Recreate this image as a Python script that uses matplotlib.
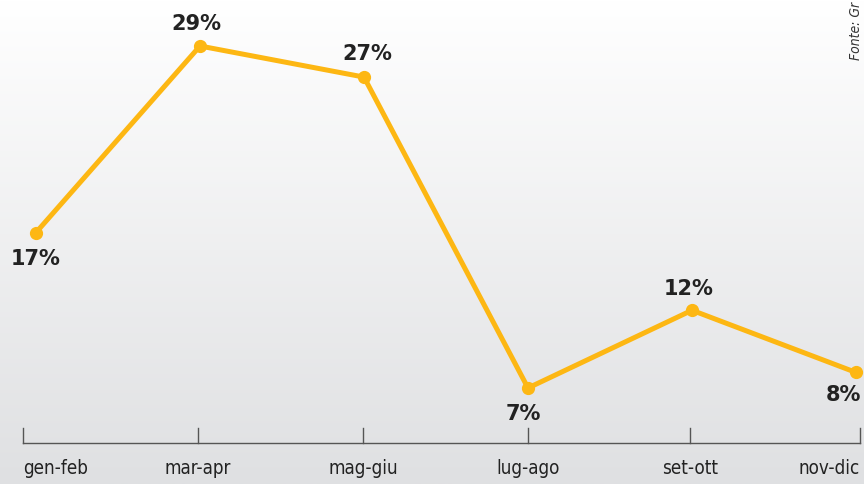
import numpy as np
import matplotlib.pyplot as plt

periodi = ["gen-feb", "mar-apr", "mag-giu", "lug-ago", "set-ott", "nov-dic"]
valori = [17, 29, 27, 7, 12, 8]
etichette = ["17%", "29%", "27%", "7%", "12%", "8%"]

giallo = "#fdb713"
x = np.arange(len(periodi))

fig = plt.figure(figsize=(8.64, 4.84), dpi=100)
ax = fig.add_axes([0, 0, 1, 1])

# pixel -> data mapping: x = (px-36)/164, y = 29-(py-46)/15.545
sx, sy = 164.0, 15.545
x0, x1 = -36 / sx, (864 - 36) / sx
y1, y0 = 29 + 46 / sy, 29 - (484 - 46) / sy
ax.set_xlim(x0, x1)
ax.set_ylim(y0, y1)
ax.axis("off")

# sfondo sfumato
grad = np.linspace(0, 1, 256).reshape(-1, 1)
cmap = plt.matplotlib.colors.LinearSegmentedColormap.from_list("bg", ["#ffffff", "#dfe0e2"])
ax.imshow(grad, extent=[x0, x1, y0, y1], aspect="auto", cmap=cmap, origin="upper", zorder=0)

# asse
ya = 29 - (443 - 46) / sy
yt = 29 - (428 - 46) / sy
tick_x = [(23 - 36) / sx, (198 - 36) / sx, (363 - 36) / sx,
          (528 - 36) / sx, (690 - 36) / sx, (860 - 36) / sx]
ax.plot([tick_x[0], tick_x[-1]], [ya, ya], color="#555555", lw=1, zorder=2)
for i, tx in enumerate(tick_x):
    ax.plot([tx, tx], [ya, yt], color="#555555", lw=1, zorder=2)
    ha = "left" if i == 0 else ("right" if i == len(tick_x) - 1 else "center")
    ax.text(tx, ya - 1.0, periodi[i], ha=ha, va="top", fontsize=13.5,
            family="DejaVu Sans", fontstretch="condensed", color="#222222")

ax.plot(x, valori, color=giallo, lw=3.6, marker="o", ms=8.5, zorder=3,
        solid_capstyle="round")

# etichette
offs = [(0, -1.7, "center"), (-0.02, 1.4, "center"), (0.02, 1.5, "center"),
        (-0.03, -1.65, "center"), (-0.02, 1.4, "center"), (0.03, -1.45, "right")]
for i, (dx, dy, ha) in enumerate(offs):
    ax.text(x[i] + dx, valori[i] + dy, etichette[i], ha=ha, va="center",
            fontsize=15, fontweight="heavy", color="#222222", zorder=4)

ax.text((856 - 36) / sx, 29 - (60 - 46) / sy, "Fonte: Gr", rotation=90,
        ha="center", va="bottom", fontsize=10, style="italic",
        family="DejaVu Sans", fontstretch="condensed", color="#333333", zorder=4)

fig.savefig("out.png", dpi=100)
